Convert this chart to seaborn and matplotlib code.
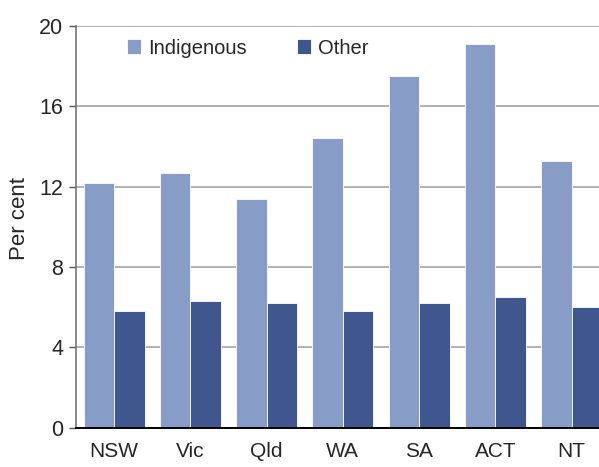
import numpy as np
import pandas as pd
import matplotlib
matplotlib.use('Agg')
import matplotlib.pyplot as plt
import seaborn as sns

states = ['NSW', 'Vic', 'Qld', 'WA', 'SA', 'ACT', 'NT']
indigenous = [12.2, 12.7, 11.4, 14.4, 17.5, 19.1, 13.3]
other = [5.8, 6.3, 6.2, 5.8, 6.2, 6.5, 6.0]
groups = ['Indigenous', 'Other']
colours = ['#889cc8', '#3f578e']

df = pd.DataFrame({
    'state': states * 2,
    'value': indigenous + other,
    'group': ['Indigenous'] * len(states) + ['Other'] * len(states),
})

sns.set_style('white')
plt.rcParams['font.family'] = ['Liberation Sans', 'DejaVu Sans']

fig = plt.figure(figsize=(5.99, 4.67), dpi=100)
ax = fig.add_axes([76 / 599, 39.3 / 467, 523 / 599, 401.7 / 467])

sns.barplot(data=df, x='state', y='value', hue='group', order=states,
            hue_order=groups, palette=colours, width=0.8, saturation=1,
            edgecolor='white', linewidth=0.6, ax=ax)

ax.set_ylim(0, 20)
ax.set_xlim(-0.5, 6.36)
ax.set_yticks([0, 4, 8, 12, 16, 20])
ax.set_axisbelow(True)
ax.yaxis.grid(True, color='#b0b0b0', lw=1.4)
ax.xaxis.grid(False)

# tick marks between the states, labels under each one
ax.set_xticks(np.arange(-0.5, 6.5, 1), minor=True)
ax.tick_params(axis='x', which='minor', length=5, width=1, color='#555555', direction='out')
ax.tick_params(axis='x', which='major', length=0, pad=10, labelsize=15)
ax.tick_params(axis='y', length=5, width=1, color='#555555', direction='out',
               labelsize=15.5, pad=4, left=True)

for s in ['top', 'right']:
    ax.spines[s].set_visible(False)
ax.spines['left'].set_color('#777777')
ax.spines['left'].set_linewidth(1.2)
ax.spines['bottom'].set_color('black')
ax.spines['bottom'].set_linewidth(1.4)

ax.set_xlabel('')
ax.set_ylabel('Per cent', fontsize=16)
ax.yaxis.set_label_coords(-0.088, 0.52)

ax.legend(loc='center left', bbox_to_anchor=(0.0975, 0.945), ncol=2,
          frameon=False, fontsize=14.5, handlelength=0.7, handleheight=0.7,
          handletextpad=0.35, columnspacing=2.5, borderpad=0, borderaxespad=0)

fig.savefig('out.png', dpi=100)
